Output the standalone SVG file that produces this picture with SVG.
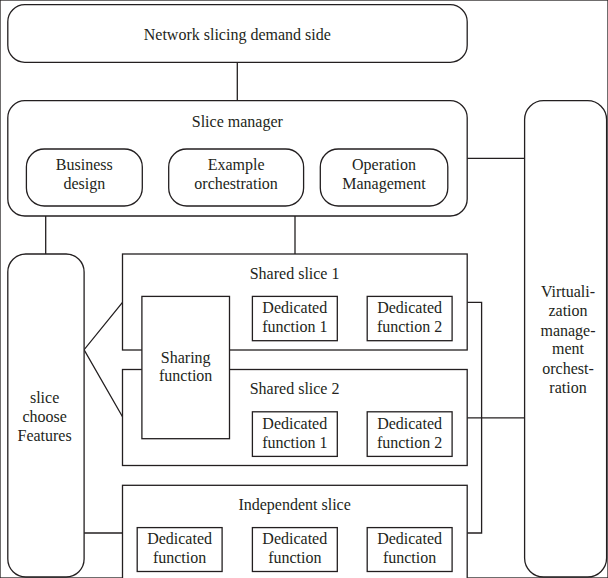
<svg xmlns="http://www.w3.org/2000/svg" width="608" height="578" viewBox="0 0 608 578">
<style>
rect, line, polyline { fill: #fff; stroke: #231f20; stroke-width: 1.3; }
polyline, line { fill: none; }
text { font-family: "Liberation Serif", "DejaVu Serif", serif; font-size: 16px; fill: #231f20; text-anchor: middle; }
</style>
<rect width="608" height="578" fill="#fff" stroke="none"/>
<g id="connectors">
  <line x1="237.3" y1="62.3" x2="237.3" y2="100.7"/>
  <line x1="467.2" y1="158.3" x2="524.6" y2="158.3"/>
  <line x1="45.7" y1="216" x2="45.7" y2="254"/>
  <line x1="295" y1="216" x2="295" y2="254"/>
  <polyline points="122.5,302.4 84.1,349.7 122.5,416.8"/>
  <line x1="84.1" y1="533" x2="122.5" y2="533"/>
  <polyline points="467.2,302.4 481.6,302.4 481.6,533 467.2,533"/>
  <line x1="467.2" y1="417.9" x2="524.6" y2="417.9"/>
</g>
<g id="demand-side">
  <rect x="7.8" y="4.7" width="459.4" height="57.6" rx="17" ry="17"/>
  <text x="237.3" y="40">Network slicing demand side</text>
</g>
<g id="slice-manager">
  <rect x="7.8" y="100.7" width="459.4" height="115.3" rx="17" ry="17"/>
  <text x="237.3" y="126.5">Slice manager</text>
</g>
<g id="business-design">
  <rect x="26.4" y="149" width="115.9" height="57" rx="18" ry="18"/>
  <text x="84.3" y="170">Business</text>
  <text x="84.3" y="189">design</text>
</g>
<g id="example-orchestration">
  <rect x="168.7" y="149" width="134.9" height="57" rx="18" ry="18"/>
  <text x="236.1" y="170">Example</text>
  <text x="236.1" y="189">orchestration</text>
</g>
<g id="operation-management">
  <rect x="320.3" y="149" width="127.5" height="57" rx="18" ry="18"/>
  <text x="384" y="170">Operation</text>
  <text x="384" y="189">Management</text>
</g>
<g id="virtualization">
  <rect x="524.6" y="100.7" width="82" height="476.3" rx="19" ry="19"/>
  <text x="568" y="297">Virtuali-</text>
  <text x="568" y="316">zation</text>
  <text x="568" y="335.5">manage-</text>
  <text x="568" y="354">ment</text>
  <text x="568" y="374">orchest-</text>
  <text x="568" y="392.5">ration</text>
</g>
<g id="slice-choose">
  <rect x="7.8" y="254" width="76.3" height="323" rx="18" ry="18"/>
  <text x="44.6" y="403">slice</text>
  <text x="44.6" y="422">choose</text>
  <text x="44.6" y="441">Features</text>
</g>
<g id="shared-slice-1">
  <rect x="122.5" y="254" width="344.7" height="96"/>
  <text x="294.6" y="278.5">Shared slice 1</text>
</g>
<g id="shared-slice-2">
  <rect x="122.5" y="369.5" width="344.7" height="96"/>
  <text x="294.6" y="393.7">Shared slice 2</text>
</g>
<g id="sharing-function">
  <rect x="141.9" y="296.4" width="87.6" height="142.3"/>
  <text x="185.7" y="362.5">Sharing</text>
  <text x="185.7" y="381">function</text>
</g>
<g id="s1-dedicated-1">
  <rect x="252.4" y="296.4" width="84.9" height="44.3"/>
  <text x="294.8" y="312.8">Dedicated</text>
  <text x="294.8" y="331.6">function 1</text>
</g>
<g id="s1-dedicated-2">
  <rect x="367.2" y="296.4" width="84.9" height="44.3"/>
  <text x="409.6" y="312.8">Dedicated</text>
  <text x="409.6" y="331.6">function 2</text>
</g>
<g id="s2-dedicated-1">
  <rect x="252.4" y="411.8" width="84.9" height="44.6"/>
  <text x="294.8" y="429">Dedicated</text>
  <text x="294.8" y="447.5">function 1</text>
</g>
<g id="s2-dedicated-2">
  <rect x="367.2" y="411.8" width="84.9" height="44.6"/>
  <text x="409.6" y="429">Dedicated</text>
  <text x="409.6" y="447.5">function 2</text>
</g>
<g id="independent-slice">
  <rect x="122.5" y="485.3" width="344.7" height="100"/>
  <text x="294.6" y="510">Independent slice</text>
</g>
<g id="ind-dedicated-1">
  <rect x="137.2" y="527.6" width="84.9" height="43.9"/>
  <text x="179.6" y="543.7">Dedicated</text>
  <text x="179.6" y="562.8">function</text>
</g>
<g id="ind-dedicated-2">
  <rect x="252.4" y="527.6" width="84.9" height="43.9"/>
  <text x="294.8" y="543.7">Dedicated</text>
  <text x="294.8" y="562.8">function</text>
</g>
<g id="ind-dedicated-3">
  <rect x="367.2" y="527.6" width="84.9" height="43.9"/>
  <text x="409.6" y="543.7">Dedicated</text>
  <text x="409.6" y="562.8">function</text>
</g>
</svg>
